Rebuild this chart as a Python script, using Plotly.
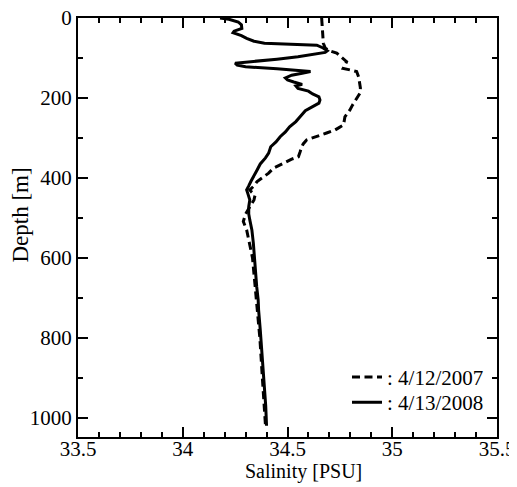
import plotly.graph_objects as go

# 4/13/2008 (solid)
depth_2008 = [0, 3, 10, 17, 26, 33, 37, 44, 51, 58, 63, 66, 68, 75, 82, 86, 91, 97, 103, 108,
              113, 118, 122, 127, 131, 134, 138, 143, 150, 155, 160, 166, 170, 176, 183, 190,
              197, 205, 213, 222, 232, 247, 259, 272, 285, 297, 310, 322, 338, 350, 365, 380,
              397, 409, 420, 430, 438, 455, 472, 490, 505, 530, 563, 600, 622, 672, 705, 730,
              780, 830, 872, 920, 970, 1020]
sal_2008 = [34.178, 34.22, 34.265, 34.28, 34.282, 34.245, 34.24, 34.28, 34.305, 34.34, 34.39,
            34.50, 34.64, 34.67, 34.69, 34.68, 34.62, 34.55, 34.45, 34.33,
            34.25, 34.26, 34.30, 34.45, 34.56, 34.61, 34.57, 34.52, 34.49, 34.50, 34.53, 34.57,
            34.54, 34.55, 34.60, 34.62, 34.65, 34.655, 34.65, 34.62, 34.585, 34.56, 34.54, 34.51,
            34.49, 34.465, 34.445, 34.42, 34.41, 34.395, 34.37, 34.355, 34.335, 34.325, 34.315,
            34.305, 34.31, 34.32, 34.315, 34.315, 34.32, 34.33, 34.337, 34.342, 34.345, 34.353,
            34.36, 34.362, 34.37, 34.377, 34.385, 34.39, 34.396, 34.40]

# 4/12/2007 (dashed)
depth_2007 = [0, 20, 40, 63, 75, 82, 88, 98, 109, 118, 126, 130, 134, 148, 163, 175, 188, 197,
              205, 218, 230, 247, 260, 268, 276, 280, 287, 293, 300, 305, 315, 322, 335, 347,
              353, 359, 368, 376, 388, 397, 409, 420, 430, 436, 443, 455, 472, 490, 509, 530,
              600, 700, 800, 900, 1020]
sal_2007 = [34.663, 34.665, 34.667, 34.671, 34.68, 34.70, 34.735, 34.76, 34.782, 34.775, 34.766,
            34.80, 34.83, 34.84, 34.846, 34.848, 34.846, 34.835, 34.822, 34.81, 34.798, 34.774,
            34.77, 34.766, 34.74, 34.727, 34.69, 34.655, 34.62, 34.591, 34.575, 34.568, 34.56,
            34.552, 34.52, 34.496, 34.46, 34.432, 34.41, 34.385, 34.355, 34.34, 34.32, 34.33,
            34.345, 34.34, 34.321, 34.30, 34.289, 34.305, 34.333, 34.352, 34.368, 34.38, 34.395]

x_ticks = [33.5, 34, 34.5, 35, 35.5]
x_ticktext = ["33.5", "34", "34.5", "35", "35.5"]
y_ticks = [0, 200, 400, 600, 800, 1000]

FONT = "Liberation Serif"

fig = go.Figure()
fig.add_trace(go.Scatter(x=sal_2007, y=depth_2007, mode="lines", name=": 4/12/2007",
                         legend="legend", showlegend=True,
                         line=dict(color="black", width=3, dash="8px,4.5px")))
fig.add_trace(go.Scatter(x=sal_2008, y=depth_2008, mode="lines", name=": 4/13/2008",
                         legend="legend2", showlegend=True,
                         line=dict(color="black", width=3)))

axis_common = dict(showline=True, linecolor="black", linewidth=2, mirror="ticks",
                   ticks="inside", ticklen=10, tickwidth=1.5, tickcolor="black",
                   showgrid=False, zeroline=False, automargin=False,
                   ticklabeloverflow="allow",
                   tickfont=dict(family=FONT, size=21, color="black"))

fig.update_xaxes(range=[33.5, 35.5], tickvals=x_ticks, ticktext=x_ticktext,
                 ticklabelstandoff=-8,
                 minor=dict(dtick=0.1, tick0=33.5, ticks="inside", ticklen=5, tickwidth=1.5,
                            tickcolor="black", showgrid=False),
                 **axis_common)
fig.update_yaxes(range=[1048, 0], tickvals=y_ticks,
                 minor=dict(dtick=100, tick0=0, ticks="inside", ticklen=5, tickwidth=1.5,
                            tickcolor="black", showgrid=False),
                 **axis_common)

fig.add_annotation(text="Salinity [PSU]", xref="paper", yref="paper", x=0.537, y=-0.0835,
                   xanchor="center", yanchor="middle", showarrow=False,
                   font=dict(family=FONT, size=20, color="black"))
fig.add_annotation(text="Depth [m]", xref="paper", yref="paper", x=-0.137, y=0.53,
                   xanchor="center", yanchor="middle", showarrow=False, textangle=-90,
                   font=dict(family=FONT, size=23, color="black"))

legend_style = dict(xanchor="left", yanchor="top", bgcolor="rgba(0,0,0,0)",
                    font=dict(family=FONT, size=21, color="black"))

fig.update_layout(
    width=509, height=479,
    margin=dict(l=70, r=20, t=10, b=50),
    plot_bgcolor="white", paper_bgcolor="white",
    font=dict(family=FONT, color="black"),
    showlegend=True,
    legend=dict(x=0.642, y=0.191, **legend_style),
    legend2=dict(x=0.642, y=0.131, **legend_style),
)

fig.write_html("out.html")
